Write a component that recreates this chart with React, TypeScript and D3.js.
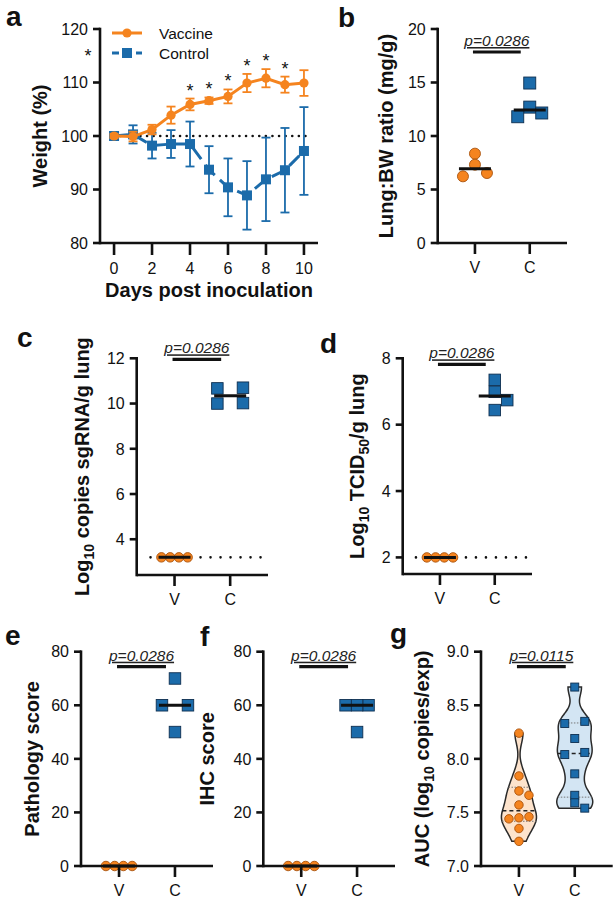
import React from "react";
import * as d3 from "d3";

const FONT = "'Liberation Sans', Arial, Helvetica, sans-serif";
const ORANGE = "#F5841F";
const ORANGE_EDGE = "#A9520C";
const BLUE = "#1B6BAA";
const BLUE_EDGE = "#0E2F50";
const INK = "#111111";

// ---------- Panel a data ----------
const days = [0, 1, 2, 3, 4, 5, 6, 7, 8, 9, 10];
const vaccineMean = [100, 99.9, 101.2, 103.9, 105.9, 106.6, 107.4, 109.9, 110.8, 109.6, 109.9];
const vaccineErr = [0.4, 0.9, 0.9, 1.6, 1.1, 0.6, 1.3, 1.7, 1.7, 1.5, 2.4];
const controlMean = [100, 100.3, 98.2, 98.5, 98.5, 93.7, 90.4, 88.9, 91.9, 93.6, 97.2];
const controlErr = [0.4, 1.7, 2.4, 2.6, 4.2, 4.4, 5.4, 6.4, 7.8, 7.9, 8.2];
const starDays = [4, 5, 6, 7, 8, 9];
const weightTicks = [80, 90, 100, 110, 120];
const dayTicks = [0, 2, 4, 6, 8, 10];
const seriesNames = ["Vaccine", "Control"];

// ---------- Panels b-g data ----------
const groups = ["V", "C"];
const lungV = [8.35, 7.32, 6.54, 6.23];
const lungC = [14.95, 12.7, 12.15, 11.8];
const sgrnaV = [3.2, 3.2, 3.2, 3.2];
const sgrnaC = [10.7, 10.67, 10.02, 10.0];
const tcidV = [2, 2, 2, 2];
const tcidC = [7.35, 6.99, 6.74, 6.44];
const pathologyV = [0, 0, 0, 0];
const pathologyC = [70, 60, 60, 50];
const ihcV = [0, 0, 0, 0];
const ihcC = [60, 60, 60, 50];
const aucV = [8.24, 7.84, 7.7, 7.66, 7.57, 7.46, 7.45, 7.44, 7.35, 7.23];
const aucC = [8.67, 8.35, 8.33, 8.19, 8.06, 8.04, 7.86, 7.66, 7.59, 7.54];

const lungTicks = [0, 5, 10, 15, 20];
const sgrnaTicks = [4, 6, 8, 10, 12];
const tcidTicks = [2, 4, 6, 8];
const scoreTicks = [0, 20, 40, 60, 80];
const aucTicks = [7.0, 7.5, 8.0, 8.5, 9.0];

const sgrnaLod = 3.2;
const tcidLod = 2;
const pValue4 = "p=0.0286";
const pValueAuc = "p=0.0115";

// ---------- helpers ----------
function median(a: number[]) {
  return d3.median(a) as number;
}
function quantileR6(a: number[], p: number) {
  const s = [...a].sort((x, y) => x - y);
  const n = s.length;
  const pos = (n + 1) * p;
  const lo = Math.max(1, Math.min(n, Math.floor(pos)));
  const hi = Math.max(1, Math.min(n, lo + 1));
  const f = pos - Math.floor(pos);
  return s[lo - 1] + f * (s[hi - 1] - s[lo - 1]);
}

// Beeswarm offsets (pixels) computed from the value positions
function swarm(values: number[], yPix: (v: number) => number, d: number, s: number) {
  const ys = values.map(yPix);
  const idx = values.map((_, i) => i).sort((a, b) => values[b] - values[a]);
  const rows: number[][] = [];
  for (const i of idx) {
    const last = rows[rows.length - 1];
    if (last && Math.abs(ys[i] - ys[last[0]]) < 0.4 * d) last.push(i);
    else rows.push([i]);
  }
  const off: number[] = new Array(values.length).fill(0);
  const placed: number[] = [];
  const collides = (i: number, dx: number) =>
    placed.some((j) => Math.abs(off[j] - dx) < 0.9 * d && Math.abs(ys[j] - ys[i]) < 0.9 * d);
  for (const row of rows) {
    const n = row.length;
    if (n === 1) {
      const i = row[0];
      const cands = [0, s, -s, 2 * s, -2 * s];
      const c = cands.find((cc) => !collides(i, cc));
      off[i] = c === undefined ? 0 : c;
      placed.push(i);
    } else {
      const r = [...row].reverse();
      r.forEach((i, k) => {
        let o: number;
        if (n === 2) o = k === 0 ? -s : s;
        else if (n % 2 === 1) o = (k - (n - 1) / 2) * s;
        else o = (k - (n - 1) / 2) * 0.92 * d;
        off[i] = o;
        placed.push(i);
      });
    }
  }
  return off;
}

type MarkerProps = { shape: "circle" | "square"; x: number; y: number; size: number };
function Marker({ shape, x, y, size }: MarkerProps) {
  if (shape === "circle")
    return <circle cx={x} cy={y} r={size / 2} fill={ORANGE} stroke={ORANGE_EDGE} strokeWidth={0.9} />;
  return (
    <rect x={x - size / 2} y={y - size / 2} width={size} height={size} fill={BLUE} stroke={BLUE_EDGE} strokeWidth={0.9} />
  );
}

function YAxis({ x, top, bottom, scale, ticks, fmt }: any) {
  return (
    <g>
      <line x1={x} x2={x} y1={top} y2={bottom} stroke={INK} strokeWidth={2.6} strokeLinecap="square" />
      {ticks.map((t: number) => (
        <g key={t}>
          <line x1={x - 7} x2={x} y1={scale(t)} y2={scale(t)} stroke={INK} strokeWidth={2.6} />
          <text x={x - 12} y={scale(t)} dy="0.36em" textAnchor="end" fontSize={16} fill={INK}>
            {fmt(t)}
          </text>
        </g>
      ))}
    </g>
  );
}

function YLabel({ x, cy, children }: any) {
  return (
    <text
      transform={`translate(${x},${cy}) rotate(-90)`}
      textAnchor="middle"
      dy="0.35em"
      fontSize={20}
      fontWeight="bold"
      fill={INK}
    >
      {children}
    </text>
  );
}

function PanelLetter({ x, y, t }: any) {
  return (
    <text x={x} y={y} fontSize={28} fontWeight="bold" fill={INK}>
      {t}
    </text>
  );
}

function PBar({ x1, x2, y, label }: any) {
  return (
    <g>
      <line x1={x1} x2={x2} y1={y} y2={y} stroke={INK} strokeWidth={3.2} />
      <text
        x={(x1 + x2) / 2}
        y={y - 6}
        textAnchor="middle"
        fontSize={15.5}
        fontStyle="italic"
        fill="#222"
        style={{ textDecoration: "underline" }}
      >
        {label}
      </text>
    </g>
  );
}

// ---------- Panel a ----------
function PanelA() {
  const x = d3.scaleLinear().domain([-0.74, 10.74]).range([100, 318]);
  const y = d3.scaleLinear().domain([80, 120]).range([243, 29]);
  const line = d3
    .line<number>()
    .x((_, i) => x(days[i]))
    .y((d) => y(d));
  const errBars = (mean: number[], err: number[], color: string) =>
    mean.map((m, i) => (
      <g key={i} stroke={color} strokeWidth={1.8}>
        <line x1={x(days[i])} x2={x(days[i])} y1={y(m - err[i])} y2={y(m + err[i])} />
        <line x1={x(days[i]) - 4.5} x2={x(days[i]) + 4.5} y1={y(m - err[i])} y2={y(m - err[i])} />
        <line x1={x(days[i]) - 4.5} x2={x(days[i]) + 4.5} y1={y(m + err[i])} y2={y(m + err[i])} />
      </g>
    ));
  return (
    <g>
      <PanelLetter x={6} y={26} t="a" />
      {/* reference 100% line */}
      <line
        x1={x(0)}
        x2={x(10) + 6}
        y1={y(100)}
        y2={y(100)}
        stroke={INK}
        strokeWidth={2.6}
        strokeDasharray="0,6.6"
        strokeLinecap="round"
      />
      {/* control */}
      {errBars(controlMean, controlErr, BLUE)}
      <path d={line(controlMean) as string} fill="none" stroke={BLUE} strokeWidth={3} strokeDasharray="14,7" />
      {controlMean.map((m, i) => (
        <rect key={i} x={x(days[i]) - 5} y={y(m) - 5} width={10} height={10} fill={BLUE} />
      ))}
      {/* vaccine */}
      {errBars(vaccineMean, vaccineErr, ORANGE)}
      <path d={line(vaccineMean) as string} fill="none" stroke={ORANGE} strokeWidth={3} />
      {vaccineMean.map((m, i) => (
        <circle key={i} cx={x(days[i])} cy={y(m)} r={4.6} fill={ORANGE} />
      ))}
      {/* significance stars */}
      {starDays.map((dd) => (
        <text key={dd} x={x(dd)} y={y(vaccineMean[dd] + vaccineErr[dd]) - 2} textAnchor="middle" fontSize={18} fill={INK}>
          *
        </text>
      ))}
      <text x={88} y={y(115.7) + 10} textAnchor="middle" fontSize={18} fill={INK}>
        *
      </text>
      {/* axes */}
      <YAxis x={100} top={29} bottom={243} scale={y} ticks={weightTicks} fmt={(t: number) => String(t)} />
      <line x1={100} x2={318} y1={243} y2={243} stroke={INK} strokeWidth={2.6} />
      {dayTicks.map((t) => (
        <g key={t}>
          <line x1={x(t)} x2={x(t)} y1={243} y2={255} stroke={INK} strokeWidth={2.6} />
          <text x={x(t)} y={274} textAnchor="middle" fontSize={16} fill={INK}>
            {t}
          </text>
        </g>
      ))}
      <text x={x(5)} y={297} textAnchor="middle" fontSize={20} fontWeight="bold" fill={INK}>
        Days post inoculation
      </text>
      <YLabel x={40} cy={136}>
        Weight (%)
      </YLabel>
      {/* legend */}
      <line x1={112} x2={142} y1={33} y2={33} stroke={ORANGE} strokeWidth={3} />
      <circle cx={127} cy={33} r={4.6} fill={ORANGE} />
      <text x={159} y={38.5} fontSize={15.5} fill={INK}>
        {seriesNames[0]}
      </text>
      <line x1={112} x2={119} y1={53} y2={53} stroke={BLUE} strokeWidth={3} />
      <line x1={136} x2={142} y1={53} y2={53} stroke={BLUE} strokeWidth={3} />
      <rect x={122} y={48} width={10} height={10} fill={BLUE} />
      <text x={159} y={58.5} fontSize={15.5} fill={INK}>
        {seriesNames[1]}
      </text>
    </g>
  );
}

// ---------- scatter panels ----------
type ScatterCfg = {
  letter: string;
  letterX: number;
  letterY: number;
  axisX: number;
  top: number;
  bottom: number;
  right: number;
  domain: [number, number];
  ticks: number[];
  fmt: (t: number) => string;
  label: React.ReactNode;
  labelX: number;
  vData: number[];
  cData: number[];
  circleD: number;
  squareS: number;
  spread: number;
  pBarY: number;
  pLabel: string;
  lod?: number;
  violin?: boolean;
};

function violinShape(values: number[], cx: number, y: any, H: number, bw: number) {
  const lo = d3.min(values) as number;
  const hi = d3.max(values) as number;
  const kde = (v: number) => values.reduce((a, x) => a + Math.exp(-((v - x) ** 2) / (2 * bw * bw)), 0);
  const pts = d3.range(61).map((i) => lo + ((hi - lo) * i) / 60);
  const dens = pts.map(kde);
  const mx = d3.max(dens) as number;
  const area = d3
    .area<number>()
    .y((v) => y(v))
    .x0((_, i) => cx - (dens[i] / mx) * H)
    .x1((_, i) => cx + (dens[i] / mx) * H)
    .curve(d3.curveCatmullRom);
  const half = (v: number) => (kde(v) / mx) * H;
  return { path: area(pts) as string, half };
}

function ScatterPanel(c: ScatterCfg) {
  const y = d3.scaleLinear().domain(c.domain).range([c.bottom, c.top]);
  const x = d3.scalePoint<string>().domain(groups).range([c.axisX, c.right]).padding(0.68);
  const xv = x("V") as number;
  const xc = x("C") as number;
  const offV = swarm(c.vData, y, c.circleD, c.spread);
  const offC = swarm(c.cData, y, c.squareS, c.spread);
  const axisCy = (c.top + c.bottom) / 2;

  let violins: React.ReactNode = null;
  if (c.violin) {
    const specs = [
      { data: c.vData, cx: xv, fill: "#FDE3CC", H: 17.5 },
      { data: c.cData, cx: xc, fill: "#D3E5F3", H: 18 },
    ];
    violins = specs.map((s, k) => {
      const v = violinShape(s.data, s.cx, y, s.H, 0.1);
      const q1 = quantileR6(s.data, 0.25);
      const q2 = quantileR6(s.data, 0.5);
      const q3 = quantileR6(s.data, 0.75);
      return (
        <g key={k}>
          <path d={v.path} fill={s.fill} stroke="#2A2A2A" strokeWidth={1.5} />
          {[q1, q3].map((q, j) => (
            <line key={j} x1={s.cx - v.half(q)} x2={s.cx + v.half(q)} y1={y(q)} y2={y(q)} stroke="#777" strokeWidth={1} strokeDasharray="1.5,1.5" />
          ))}
          <line x1={s.cx - v.half(q2)} x2={s.cx + v.half(q2)} y1={y(q2)} y2={y(q2)} stroke="#222" strokeWidth={1.6} strokeDasharray="4,3" />
        </g>
      );
    });
  }

  return (
    <g>
      <PanelLetter x={c.letterX} y={c.letterY} t={c.letter} />
      {c.lod !== undefined && (
        <line
          x1={xv - 24}
          x2={c.right - 6}
          y1={y(c.lod)}
          y2={y(c.lod)}
          stroke={INK}
          strokeWidth={2.6}
          strokeDasharray="0,10"
          strokeLinecap="round"
        />
      )}
      {violins}
      {c.vData.map((v, i) => (
        <Marker key={"v" + i} shape="circle" x={xv + offV[i]} y={y(v)} size={c.circleD} />
      ))}
      {c.cData.map((v, i) => (
        <Marker key={"c" + i} shape="square" x={xc + offC[i]} y={y(v)} size={c.squareS} />
      ))}
      {!c.violin && (
        <g stroke={INK} strokeWidth={3}>
          <line x1={xv - 16} x2={xv + 16} y1={y(median(c.vData))} y2={y(median(c.vData))} />
          <line x1={xc - 16} x2={xc + 16} y1={y(median(c.cData))} y2={y(median(c.cData))} />
        </g>
      )}
      <YAxis x={c.axisX} top={c.top} bottom={c.bottom} scale={y} ticks={c.ticks} fmt={c.fmt} />
      <line x1={c.axisX} x2={c.right} y1={c.bottom} y2={c.bottom} stroke={INK} strokeWidth={2.6} />
      {groups.map((g) => (
        <g key={g}>
          <line x1={x(g)} x2={x(g)} y1={c.bottom} y2={c.bottom + 11} stroke={INK} strokeWidth={2.6} />
          <text x={x(g)} y={c.bottom + 30} textAnchor="middle" fontSize={16} fill={INK}>
            {g}
          </text>
        </g>
      ))}
      <PBar x1={xv - 2} x2={xc - 9} y={c.pBarY} label={c.pLabel} />
      <YLabel x={c.labelX} cy={axisCy}>
        {c.label}
      </YLabel>
    </g>
  );
}

const intFmt = (t: number) => String(t);
const dec1 = d3.format(".1f");

export default function App() {
  return (
    <svg
      width={616}
      height={900}
      viewBox="0 0 616 900"
      style={{ position: "absolute", left: 0, top: 0, background: "#fff", fontFamily: FONT }}
      fontFamily={FONT}
    >
      <rect x={0} y={0} width={616} height={900} fill="#fff" />
      <PanelA />
      <ScatterPanel
        letter="b"
        letterX={338}
        letterY={27}
        axisX={437.7}
        top={29}
        bottom={243}
        right={567}
        domain={[0, 20]}
        ticks={lungTicks}
        fmt={intFmt}
        label="Lung:BW ratio (mg/g)"
        labelX={386}
        vData={lungV}
        cData={lungC}
        circleD={11}
        squareS={12}
        spread={12}
        pBarY={52}
        pLabel={pValue4}
      />
      <ScatterPanel
        letter="c"
        letterX={17}
        letterY={347}
        axisX={136.7}
        top={358.3}
        bottom={575}
        right={268}
        domain={[2.42, 12]}
        ticks={sgrnaTicks}
        fmt={intFmt}
        label={
          <>
            Log<tspan dy="5" fontSize={14}>10</tspan>
            <tspan dy="-5"> copies sgRNA/g lung</tspan>
          </>
        }
        labelX={82}
        vData={sgrnaV}
        cData={sgrnaC}
        circleD={9.5}
        squareS={11.5}
        spread={12.8}
        pBarY={359.3}
        pLabel={pValue4}
        lod={sgrnaLod}
      />
      <ScatterPanel
        letter="d"
        letterX={320}
        letterY={353}
        axisX={402.7}
        top={358.3}
        bottom={574}
        right={532}
        domain={[1.5, 8]}
        ticks={tcidTicks}
        fmt={intFmt}
        label={
          <>
            Log<tspan dy="5" fontSize={14}>10</tspan>
            <tspan dy="-5"> TCID</tspan>
            <tspan dy="5" fontSize={14}>50</tspan>
            <tspan dy="-5">/g lung</tspan>
          </>
        }
        labelX={356.7}
        vData={tcidV}
        cData={tcidC}
        circleD={9.5}
        squareS={11.5}
        spread={12.5}
        pBarY={364.3}
        pLabel={pValue4}
        lod={tcidLod}
      />
      <ScatterPanel
        letter="e"
        letterX={5}
        letterY={645}
        axisX={81}
        top={651.7}
        bottom={866}
        right={213}
        domain={[0, 80]}
        ticks={scoreTicks}
        fmt={intFmt}
        label="Pathology score"
        labelX={32}
        vData={pathologyV}
        cData={pathologyC}
        circleD={9.5}
        squareS={11.5}
        spread={13}
        pBarY={666.7}
        pLabel={pValue4}
      />
      <ScatterPanel
        letter="f"
        letterX={200}
        letterY={646}
        axisX={263.3}
        top={651.7}
        bottom={866}
        right={395}
        domain={[0, 80]}
        ticks={scoreTicks}
        fmt={intFmt}
        label="IHC score"
        labelX={207}
        vData={ihcV}
        cData={ihcC}
        circleD={9.5}
        squareS={11.5}
        spread={11.5}
        pBarY={666.7}
        pLabel={pValue4}
      />
      <ScatterPanel
        letter="g"
        letterX={390}
        letterY={643}
        axisX={481}
        top={651.7}
        bottom={866}
        right={612.7}
        domain={[7, 9]}
        ticks={aucTicks}
        fmt={dec1}
        label={
          <>
            AUC (log<tspan dy="5" fontSize={14}>10</tspan>
            <tspan dy="-5"> copies/exp)</tspan>
          </>
        }
        labelX={422}
        vData={aucV}
        cData={aucC}
        circleD={8.5}
        squareS={8}
        spread={10}
        pBarY={666.7}
        pLabel={pValueAuc}
        violin
      />
    </svg>
  );
}
